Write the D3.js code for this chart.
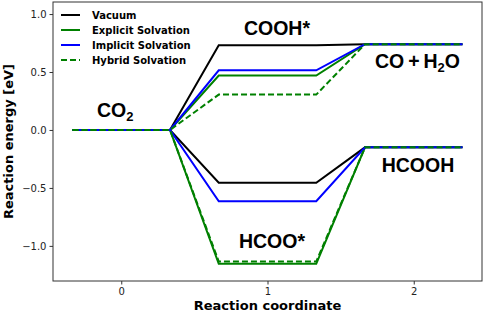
<!DOCTYPE html>
<html>
<head>
<meta charset="utf-8">
<script src="https://cdn.jsdelivr.net/npm/d3@7"></script>
<style>
body { margin: 0; background: #fff; }
svg { display: block; }
</style>
</head>
<body>
<script>
// level energies per state, two pathways per series
var steps = [0, 1, 2];
var seriesNames = ['Vacuum', 'Explicit Solvation', 'Implicit Solvation', 'Hybrid Solvation'];
var coohPath = {
    'Vacuum': [0, 0.73, 0.74],
    'Explicit Solvation': [0, 0.47, 0.74],
    'Implicit Solvation': [0, 0.515, 0.74],
    'Hybrid Solvation': [0, 0.305, 0.74]
};
var hcooPath = {
    'Vacuum': [0, -0.455, -0.15],
    'Explicit Solvation': [0, -1.155, -0.15],
    'Implicit Solvation': [0, -0.615, -0.15],
    'Hybrid Solvation': [0, -1.135, -0.15]
};
var yTicks = [-1.0, -0.5, 0.0, 0.5, 1.0];
var xTicks = [0, 1, 2];

var colors = { 'Vacuum': '#000000', 'Explicit Solvation': '#008000', 'Implicit Solvation': '#0000ff', 'Hybrid Solvation': '#008000' };
var dashes = { 'Vacuum': null, 'Explicit Solvation': null, 'Implicit Solvation': null, 'Hybrid Solvation': '6,3' };

var svgWidth = 484, svgHeight = 316;
var plotLeft = 53, plotRight = 482, plotTop = 2, plotBottom = 281;

var xScale = d3.scaleLinear().domain([-0.4667, 2.4667]).range([plotLeft, plotRight]);
var yScale = d3.scaleLinear().domain([-1.303, 1.104]).range([plotBottom, plotTop]);

var svg = d3.select('body').append('svg')
    .attr('width', svgWidth)
    .attr('height', svgHeight);

function levelPoints(vals) {
    var pts = [];
    vals.forEach((v, i) => {
        pts.push([steps[i] - 1 / 3, v]);
        pts.push([steps[i] + 1 / 3, v]);
    });
    return pts;
}

var line = d3.line()
    .x(d => xScale(d[0]))
    .y(d => yScale(d[1]));

var lines = svg.append('g');
seriesNames.forEach(name => {
    [coohPath[name], hcooPath[name]].forEach(vals => {
        lines.append('path')
            .attr('d', line(levelPoints(vals)))
            .attr('fill', 'none')
            .attr('stroke', colors[name])
            .attr('stroke-width', 2)
            .attr('stroke-dasharray', dashes[name]);
    });
});

// axes
var xAxis = d3.axisBottom(xScale).tickValues(xTicks).tickFormat(d3.format('d')).tickSizeOuter(0).tickSize(3.5).tickPadding(3);
var yAxis = d3.axisLeft(yScale).tickValues(yTicks).tickFormat(d => d3.format('.1f')(d).replace('-', '\u2212')).tickSizeOuter(0).tickSize(3.5).tickPadding(3);

var gx = svg.append('g').attr('transform', `translate(0, ${plotBottom})`).call(xAxis);
var gy = svg.append('g').attr('transform', `translate(${plotLeft}, 0)`).call(yAxis);
[gx, gy].forEach(g => {
    g.select('.domain').remove();
    g.selectAll('line').attr('stroke', '#333');
    g.selectAll('text').attr('fill', '#222').style('font-family', 'DejaVu Sans').style('font-size', '10px');
});

svg.append('rect')
    .attr('x', plotLeft).attr('y', plotTop)
    .attr('width', plotRight - plotLeft).attr('height', plotBottom - plotTop)
    .attr('fill', 'none').attr('stroke', '#333').attr('stroke-width', 1);

svg.append('text')
    .attr('x', (plotLeft + plotRight) / 2).attr('y', 310)
    .attr('text-anchor', 'middle')
    .style('font-family', 'DejaVu Sans').style('font-weight', 'bold').style('font-size', '13px')
    .text('Reaction coordinate');

svg.append('text')
    .attr('transform', `translate(13, ${(plotTop + plotBottom) / 2}) rotate(-90)`)
    .attr('text-anchor', 'middle')
    .style('font-family', 'DejaVu Sans').style('font-weight', 'bold').style('font-size', '13px')
    .text('Reaction energy [eV]');

// legend
var legend = svg.append('g');
seriesNames.forEach((name, i) => {
    var ly = 15 + i * 15;
    legend.append('line')
        .attr('x1', 61).attr('x2', 80).attr('y1', ly).attr('y2', ly)
        .attr('stroke', colors[name]).attr('stroke-width', 2)
        .attr('stroke-dasharray', dashes[name]);
    legend.append('text')
        .attr('x', 92).attr('y', ly + 3.5)
        .style('font-family', 'DejaVu Sans').style('font-weight', 'bold').style('font-size', '10px')
        .text(name);
});

// state labels
var labelFont = 'Liberation Sans';
function stateLabel(x, y, anchor) {
    return svg.append('text')
        .attr('x', x).attr('y', y)
        .attr('text-anchor', anchor)
        .style('font-family', labelFont).style('font-weight', 'bold').style('font-size', '19.5px');
}
var co2 = stateLabel(97, 117, 'start');
co2.append('tspan').text('CO');
co2.append('tspan').attr('dy', 4).style('font-size', '13px').text('2');

stateLabel(277, 35, 'middle').text('COOH*');

var coh = stateLabel(375, 68, 'start');
coh.append('tspan').text('CO\u2009+\u2009H');
coh.append('tspan').attr('dy', 4).style('font-size', '13px').text('2');
coh.append('tspan').attr('dy', -4).text('O');

stateLabel(418, 172, 'middle').text('HCOOH');
stateLabel(272, 248, 'middle').text('HCOO*');
</script>
</body>
</html>
